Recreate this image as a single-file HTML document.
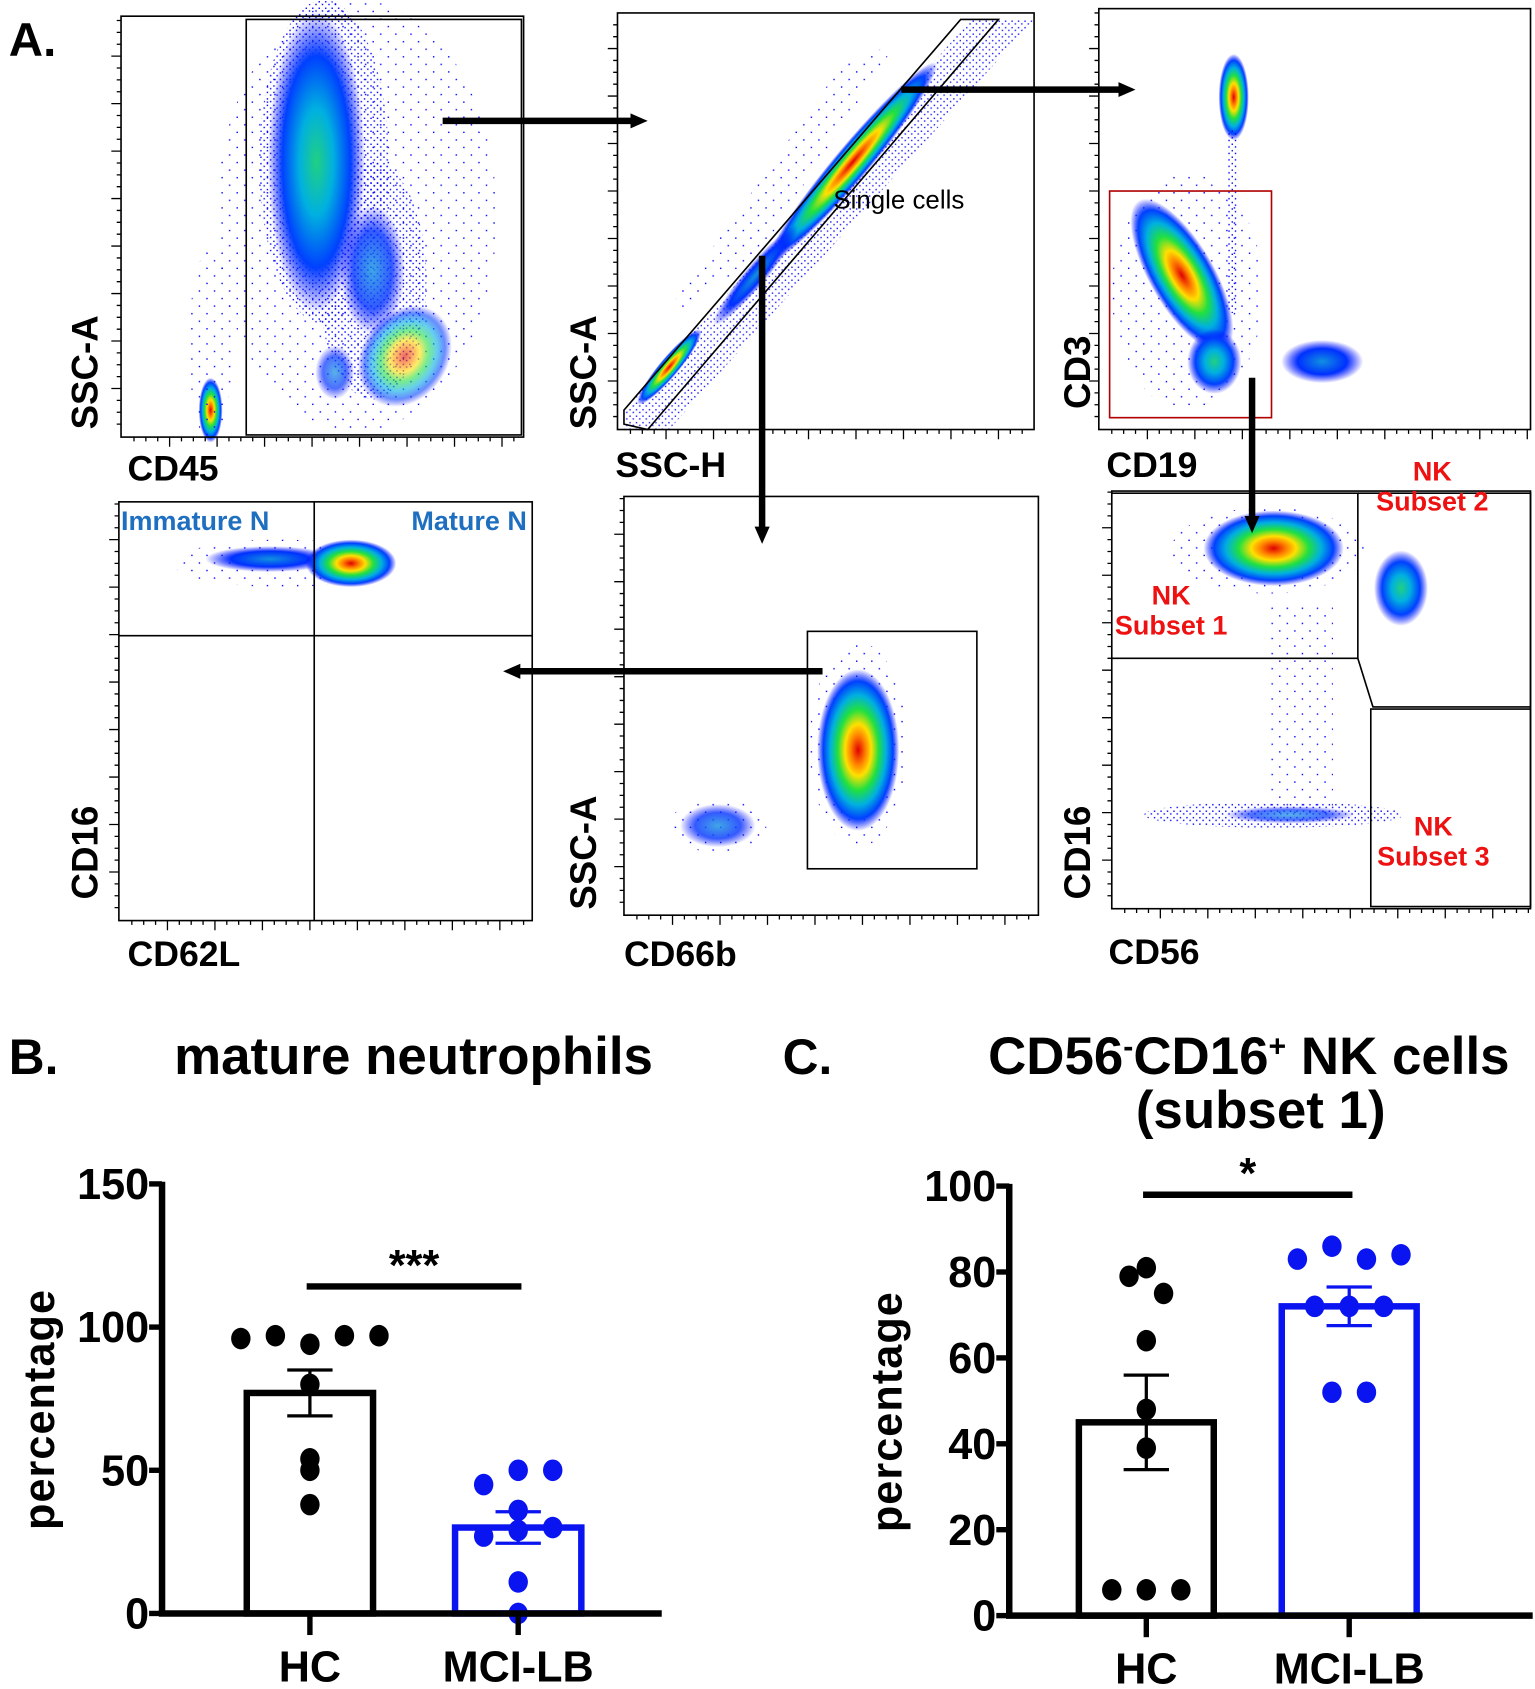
<!DOCTYPE html>
<html><head><meta charset="utf-8"><style>
html,body{margin:0;padding:0;background:#fff;width:1535px;height:1689px;overflow:hidden}
svg{display:block}
text{font-family:"Liberation Sans",Arial,sans-serif;font-weight:bold}
</style></head><body>
<svg id="fig" width="1535" height="1689" viewBox="0 0 1422 1565" xmlns="http://www.w3.org/2000/svg">
<defs>
<radialGradient id="jet"><stop offset="0" stop-color="#e00000"/><stop offset="0.18" stop-color="#ff8000"/><stop offset="0.32" stop-color="#ffe000"/><stop offset="0.5" stop-color="#20e040"/><stop offset="0.68" stop-color="#00b0e0"/><stop offset="0.85" stop-color="#0040ff"/><stop offset="1" stop-color="#0000ff" stop-opacity="0"/></radialGradient>
<radialGradient id="cool"><stop offset="0" stop-color="#20d080"/><stop offset="0.35" stop-color="#00b0e0"/><stop offset="0.7" stop-color="#0040ff"/><stop offset="1" stop-color="#0000ff" stop-opacity="0"/></radialGradient>
<radialGradient id="blue"><stop offset="0" stop-color="#1090e0"/><stop offset="0.6" stop-color="#0030ff"/><stop offset="1" stop-color="#0000ff" stop-opacity="0"/></radialGradient>
<pattern id="dots" width="6" height="6" patternUnits="userSpaceOnUse"><rect x="1" y="1" width="1.3" height="1.3" fill="#0000ff"/><rect x="4" y="3.5" width="1.3" height="1.3" fill="#0000ff"/></pattern>
<pattern id="sparse" width="14" height="14" patternUnits="userSpaceOnUse"><rect x="2" y="3" width="1.3" height="1.3" fill="#0000ff"/><rect x="9" y="10" width="1.3" height="1.3" fill="#0000ff"/></pattern>
<marker id="ah" markerUnits="userSpaceOnUse" markerWidth="18" markerHeight="18" refX="4" refY="9" orient="auto"><path d="M0,2 L16,9 L0,16 z" fill="#000"/></marker>
</defs>

<text x="8" y="52" font-size="44">A.</text>

<g>
<ellipse cx="330" cy="200" rx="130" ry="200" fill="url(#sparse)"/>
<ellipse cx="300" cy="150" rx="60" ry="150" fill="url(#dots)"/>
<ellipse cx="345" cy="260" rx="50" ry="110" fill="url(#dots)"/>
<ellipse cx="293" cy="150" rx="45" ry="140" fill="url(#cool)"/>
<ellipse cx="345" cy="250" rx="30" ry="60" fill="url(#blue)" opacity=".8"/>
<ellipse cx="375" cy="330" rx="40" ry="50" fill="url(#jet)" opacity=".6" transform="rotate(35 375 330)"/>
<ellipse cx="310" cy="345" rx="18" ry="25" fill="url(#blue)" opacity=".7"/>
<ellipse cx="195" cy="380" rx="11" ry="30" fill="url(#jet)"/>
<ellipse cx="195" cy="320" rx="20" ry="90" fill="url(#sparse)"/>
<rect x="112" y="15" width="373" height="390" fill="none" stroke="#000" stroke-width="1.5"/>
<rect x="228" y="18" width="255" height="385" fill="none" stroke="#000" stroke-width="1.5"/>
<text x="90" y="345" font-size="34" transform="rotate(-90 90 345)" text-anchor="middle">SSC-A</text>
<text x="118" y="445" font-size="33">CD45</text>
</g>

<g>
<polygon points="578,380 900,18 958,18 620,398 578,398" fill="url(#dots)" opacity=".9"/>
<polygon points="610,300 780,60 830,40 700,240" fill="url(#sparse)"/>
<ellipse cx="790" cy="150" rx="120" ry="16" fill="url(#jet)" transform="rotate(-50 790 150)"/>
<ellipse cx="700" cy="255" rx="60" ry="10" fill="url(#blue)" transform="rotate(-50 700 255)"/>
<ellipse cx="620" cy="340" rx="45" ry="9" fill="url(#jet)" transform="rotate(-50 620 340)"/>
<rect x="572" y="12" width="386" height="386" fill="none" stroke="#000" stroke-width="1.5"/>
<polygon points="578,380 890,18 925,18 600,398 578,393" fill="none" stroke="#000" stroke-width="1.5"/>
<text x="772" y="193" font-size="24" style="font-weight:normal">Single cells</text>
<text x="552" y="345" font-size="34" transform="rotate(-90 552 345)" text-anchor="middle">SSC-A</text>
<text x="570" y="442" font-size="33">SSC-H</text>
</g>

<g>
<ellipse cx="1100" cy="270" rx="70" ry="110" fill="url(#sparse)"/>
<ellipse cx="1095" cy="255" rx="30" ry="80" fill="url(#jet)" transform="rotate(-30 1095 255)"/>
<ellipse cx="1125" cy="335" rx="25" ry="30" fill="url(#cool)"/>
<ellipse cx="1143" cy="90" rx="14" ry="40" fill="url(#jet)"/>
<rect x="1137" y="120" width="10" height="170" fill="url(#dots)"/>
<ellipse cx="1225" cy="335" rx="38" ry="20" fill="url(#blue)"/>
<rect x="1018" y="8" width="400" height="390" fill="none" stroke="#000" stroke-width="1.5"/>
<rect x="1028" y="177" width="150" height="210" fill="none" stroke="#b00000" stroke-width="1.5"/>
<text x="1010" y="345" font-size="34" transform="rotate(-90 1010 345)" text-anchor="middle">CD3</text>
<text x="1025" y="442" font-size="33">CD19</text>
</g>

<g>
<ellipse cx="260" cy="522" rx="100" ry="22" fill="url(#sparse)"/>
<ellipse cx="250" cy="518" rx="60" ry="12" fill="url(#blue)"/>
<ellipse cx="325" cy="522" rx="42" ry="22" fill="url(#jet)"/>
<rect x="110" y="465" width="383" height="388" fill="none" stroke="#000" stroke-width="1.5"/>
<line x1="291" y1="465" x2="291" y2="853" stroke="#000" stroke-width="1.5"/>
<line x1="110" y1="589" x2="493" y2="589" stroke="#000" stroke-width="1.5"/>
<text x="112" y="491" font-size="25" fill="#1f6fc0">Immature N</text>
<text x="488" y="491" font-size="25" fill="#1f6fc0" text-anchor="end">Mature N</text>
<text x="90" y="790" font-size="34" transform="rotate(-90 90 790)" text-anchor="middle">CD16</text>
<text x="118" y="895" font-size="33">CD62L</text>
</g>

<g>
<ellipse cx="795" cy="690" rx="45" ry="95" fill="url(#sparse)"/>
<ellipse cx="795" cy="695" rx="38" ry="75" fill="url(#jet)"/>
<ellipse cx="665" cy="765" rx="45" ry="25" fill="url(#sparse)"/>
<ellipse cx="665" cy="765" rx="35" ry="20" fill="url(#blue)" opacity=".8"/>
<rect x="578" y="460" width="384" height="388" fill="none" stroke="#000" stroke-width="1.5"/>
<rect x="748" y="585" width="157" height="220" fill="none" stroke="#000" stroke-width="1.5"/>
<text x="552" y="790" font-size="34" transform="rotate(-90 552 790)" text-anchor="middle">SSC-A</text>
<text x="578" y="895" font-size="33">CD66b</text>
</g>

<g>
<ellipse cx="1175" cy="510" rx="90" ry="40" fill="url(#sparse)"/>
<ellipse cx="1180" cy="508" rx="65" ry="35" fill="url(#jet)"/>
<ellipse cx="1298" cy="545" rx="25" ry="35" fill="url(#cool)"/>
<rect x="1175" y="560" width="60" height="200" fill="url(#sparse)"/>
<ellipse cx="1180" cy="755" rx="120" ry="12" fill="url(#dots)"/>
<ellipse cx="1195" cy="755" rx="60" ry="8" fill="url(#blue)" opacity=".7"/>
<rect x="1030" y="455" width="388" height="387" fill="none" stroke="#000" stroke-width="1.5"/>
<polyline points="1030,457 1258,457 1258,610 1030,610" fill="none" stroke="#000" stroke-width="1.5"/>
<polyline points="1258,457 1418,457 1418,655 1272,655 1258,610" fill="none" stroke="#000" stroke-width="1.5"/>
<rect x="1270" y="657" width="148" height="183" fill="none" stroke="#000" stroke-width="1.5"/>
<text x="1085" y="560" font-size="25" fill="#ee1111" text-anchor="middle"><tspan x="1085">NK</tspan><tspan x="1085" dy="28">Subset 1</tspan></text>
<text x="1327" y="445" font-size="25" fill="#ee1111" text-anchor="middle"><tspan x="1327">NK</tspan><tspan x="1327" dy="28">Subset 2</tspan></text>
<text x="1328" y="774" font-size="25" fill="#ee1111" text-anchor="middle"><tspan x="1328">NK</tspan><tspan x="1328" dy="28">Subset 3</tspan></text>
<text x="1010" y="790" font-size="34" transform="rotate(-90 1010 790)" text-anchor="middle">CD16</text>
<text x="1027" y="893" font-size="33">CD56</text>
</g>

<g id="flowticks"></g>

<g stroke="#000" stroke-width="6">
<line x1="410" y1="112" x2="588" y2="112" marker-end="url(#ah)"/>
<line x1="835" y1="83" x2="1040" y2="83" marker-end="url(#ah)"/>
<line x1="706" y1="237" x2="706" y2="492" marker-end="url(#ah)"/>
<line x1="1160" y1="350" x2="1160" y2="482" marker-end="url(#ah)"/>
<line x1="762" y1="622" x2="478" y2="622" marker-end="url(#ah)"/>
</g>

<g id="charts"></g>
</svg>
<script>
// Panel B data
const categories = ["HC", "MCI-LB"];
const bMeans = [77, 30];
const bSem = [8, 5.5];
const bHcPoints = [94, 97, 97, 97, 96, 80, 54, 50, 38];
const bMciPoints = [50, 50, 45, 36, 29, 30, 27, 11, 0];
const bTicks = [0, 50, 100, 150];
// Panel C data
const cMeans = [45, 72];
const cSem = [11, 4.5];
const cHcPoints = [81, 79, 75, 64, 48, 39, 6, 6, 6];
const cMciPoints = [86, 83, 83, 84, 72, 72, 72, 52, 52];
const cTicks = [0, 20, 40, 60, 80, 100];

const NS = "http://www.w3.org/2000/svg";
const root = document.getElementById("charts");
function mk(tag, attrs, parent, txt) {
  const e = document.createElementNS(NS, tag);
  for (const k in attrs) e.setAttribute(k, attrs[k]);
  if (txt !== undefined) e.textContent = txt;
  (parent || root).appendChild(e);
  return e;
}
// flow plot minor ticks (decorative)
const ft = document.getElementById("flowticks");
[[112,15,485,405],[572,12,958,398],[1018,8,1418,398],[110,465,493,853],[578,460,962,848],[1030,455,1418,842]].forEach(f => {
  let d = "";
  for (let x = f[0] + 12; x < f[2]; x += 11) { const L = ((x - f[0]) % 44 < 11) ? 9 : 4; d += `M${x},${f[3]}v${L}`; }
  for (let y = f[3] - 12; y > f[1]; y -= 11) { const L = ((f[3] - y) % 44 < 11) ? 9 : 4; d += `M${f[0]},${y}h-${L}`; }
  mk("path", {d: d, stroke: "#000", "stroke-width": 1.2, fill: "none"}, ft);
});

const blueC = "#0a14f0";
function jitter(vals, x) {
  const out = []; const used = {};
  vals.forEach((v) => {
    const k = Math.round(v / 6);
    const n = used[k] || 0; used[k] = n + 1;
    out.push(x + (n === 0 ? 0 : (n % 2 ? 1 : -1) * Math.ceil(n / 2) * 32));
  });
  const groups = {};
  vals.forEach((v, i) => { const k = Math.round(v / 6); (groups[k] = groups[k] || []).push(i); });
  Object.values(groups).forEach(g => {
    const xs = g.map(i => out[i]); const m = (Math.min(...xs) + Math.max(...xs)) / 2;
    g.forEach(i => out[i] += x - m);
  });
  return out;
}
function panel(o) {
  const g = mk("g", {});
  
  
  const y = v => o.y0 - (v / o.max) * (o.y0 - o.y1);
  const xc = [o.ax + o.c1, o.ax + o.c2];
  o.means.forEach((m, i) => {
    const r = mk("rect", {x: xc[i] - o.bw / 2, y: y(m), width: o.bw, height: o.y0 - y(m), fill: "none", stroke: i ? blueC : "#000", "stroke-width": 6}, g);
    
    
  });
  [o.p0, o.p1].forEach((pts, i) => {
    const xs = jitter(pts, xc[i]);
    pts.forEach((v, j) => {
      const c = mk("ellipse", {cx: xs[j], cy: y(v), rx: 9, ry: 10, fill: i ? blueC : "#000"}, g);
      
      
    });
  });
  o.means.forEach((m, i) => {
    const col = i ? blueC : "#000";
    const e = mk("path", {d: `M${xc[i]},${y(m + o.sem[i])}V${y(m - o.sem[i])}M${xc[i]-21},${y(m + o.sem[i])}h42M${xc[i]-21},${y(m - o.sem[i])}h42`, stroke: col, "stroke-width": 3, fill: "none"}, g);
    
    
  });
  const ya = mk("line", {x1: o.ax, y1: o.y1 - 2, x2: o.ax, y2: o.y0, stroke: "#000", "stroke-width": 6}, g);
  
  
  const xa = mk("line", {x1: o.ax - 3, y1: o.y0, x2: o.xEnd, y2: o.y0, stroke: "#000", "stroke-width": 6}, g);
  
  
  o.ticks.forEach(t => {
    mk("line", {x1: o.ax - 12, y1: y(t), x2: o.ax, y2: y(t), stroke: "#000", "stroke-width": 5}, g);
    const tl = mk("text", {x: o.ax - 12, y: y(t) + 14, "font-size": 40, "text-anchor": "end"}, g, String(t));
    
    
  });
  categories.forEach((c, i) => {
    mk("line", {x1: xc[i], y1: o.y0, x2: xc[i], y2: o.y0 + 20, stroke: "#000", "stroke-width": 5}, g);
    const t = mk("text", {x: xc[i], y: o.y0 + 63, "font-size": 40, "text-anchor": "middle"}, g, c);
    
    
  });
  const yt = mk("text", {x: o.ax - 100, y: (o.y0 + o.y1) / 2 + 10, "font-size": 40, "text-anchor": "middle", transform: `rotate(-90 ${o.ax - 100} ${(o.y0 + o.y1) / 2 + 10})`, "letter-spacing": "1"}, g, "percentage");
  
  
  const sl = mk("line", {x1: xc[0] - 3, y1: o.sigY, x2: xc[1] + 3, y2: o.sigY, stroke: "#000", "stroke-width": 6}, g);
  
  
  const st = mk("text", {x: (xc[0] + xc[1]) / 2, y: o.sigY - 6, "font-size": 40, "text-anchor": "middle"}, g, o.sig);
  
  
}
panel({name: "chart-mature-neutrophils", ax: 150, y0: 1495, y1: 1097, max: 150, c1: 137, c2: 330, bw: 117, xEnd: 613,
  means: bMeans, sem: bSem, p0: bHcPoints, p1: bMciPoints, ticks: bTicks, sigY: 1192, sig: "***"});
panel({name: "chart-nk-subset-1", ax: 935, y0: 1497, y1: 1099, max: 100, c1: 127, c2: 315, bw: 125, xEnd: 1420,
  means: cMeans, sem: cSem, p0: cHcPoints, p1: cMciPoints, ticks: cTicks, sigY: 1107, sig: "*"});

function label(txt, x, y, size, name, anchor) {
  const t = mk("text", {x: x, y: y, "font-size": size, "text-anchor": anchor || "start"}, root, txt);
  
  
  return t;
}
label("B.", 8, 995, 46, "panel-b-label");
label("mature neutrophils", 383, 995, 49, "chart-title-b", "middle");
label("C.", 725, 995, 46, "panel-c-label");
const ct = label("", 1157, 995, 49, "chart-title-c", "middle");
ct.innerHTML = 'CD56<tspan dy="-16" font-size="28">-</tspan><tspan dy="16">CD16</tspan><tspan dy="-16" font-size="28">+</tspan><tspan dy="16"> NK cells</tspan>';
label("(subset 1)", 1168, 1045, 49, "chart-title-c-line2", "middle");
</script>
</body></html>
